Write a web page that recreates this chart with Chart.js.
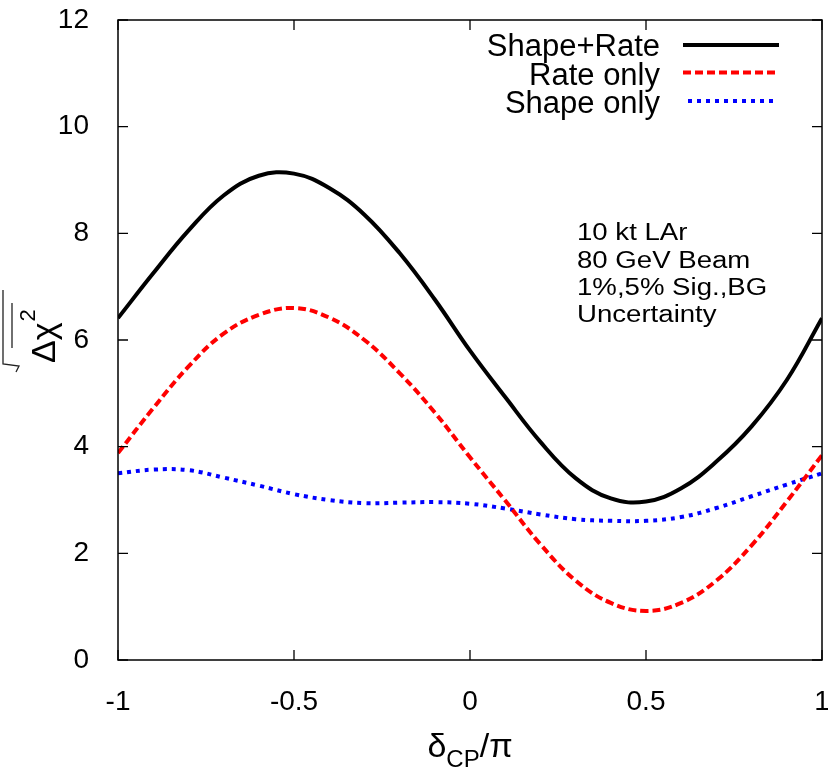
<!DOCTYPE html>
<html><head><meta charset="utf-8">
<script src="https://cdn.jsdelivr.net/npm/chart.js@4/dist/chart.umd.min.js"></script>
<style>html,body{margin:0;padding:0;background:#fff}#wrap{width:828px;height:769px;position:relative}</style>
</head><body><div id="wrap"><canvas id="c"></canvas></div>
<script>
// ---- data ----
const deltaCP   = [-1,-0.9,-0.8,-0.7,-0.6,-0.5,-0.4,-0.3,-0.2,-0.1,0,0.1,0.2,0.3,0.4,0.5,0.6,0.7,0.8,0.9,1];
const shapeRate = [6.41,7.25,8.05,8.71,9.08,9.12,8.85,8.35,7.63,6.76,5.80,4.93,4.09,3.41,3.03,2.97,3.22,3.72,4.38,5.25,6.41];
const rateOnly  = [3.88,4.72,5.50,6.12,6.47,6.60,6.42,6.00,5.38,4.64,3.80,2.99,2.17,1.49,1.07,0.92,1.07,1.49,2.15,2.97,3.84];
const shapeOnly = [3.50,3.57,3.56,3.42,3.27,3.11,3.00,2.94,2.95,2.96,2.93,2.84,2.73,2.64,2.61,2.61,2.68,2.85,3.07,3.29,3.50];
const seriesLabels = ['Shape+Rate','Rate only','Shape only'];
const xTicks = [-1,-0.5,0,0.5,1];
const yTicks = [0,2,4,6,8,10,12];
const noteLines = ['10 kt LAr','80 GeV Beam','1%,5% Sig.,BG','Uncertainty'];

const FONT = '"Liberation Sans", Arial, Helvetica, sans-serif';
const pts = arr => arr.map((v,i)=>({x:deltaCP[i], y:v}));

const styles = [
  {color:'#000000', width:4, dash:[]},
  {color:'#ff0000', width:4, dash:[8,4]},
  {color:'#0000ff', width:4, dash:[4,5]}
];

const decor = {
  id:'decor',
  afterDraw(chart){
    const ctx = chart.ctx, a = chart.chartArea;
    const xs = chart.scales.x, ys = chart.scales.y;
    ctx.save();
    // frame
    ctx.strokeStyle = '#000'; ctx.lineWidth = 1.5; ctx.setLineDash([]);
    ctx.strokeRect(a.left, a.top, a.right-a.left, a.bottom-a.top);
    // inward ticks on all four sides
    ctx.lineWidth = 1.3;
    ctx.beginPath();
    xTicks.forEach(v=>{
      const p = xs.getPixelForValue(v);
      ctx.moveTo(p, a.bottom); ctx.lineTo(p, a.bottom-10);
      ctx.moveTo(p, a.top); ctx.lineTo(p, a.top+10);
    });
    yTicks.forEach(v=>{
      const p = ys.getPixelForValue(v);
      ctx.moveTo(a.left, p); ctx.lineTo(a.left+10, p);
      ctx.moveTo(a.right, p); ctx.lineTo(a.right-10, p);
    });
    ctx.stroke();

    // legend
    ctx.fillStyle = '#000';
    ctx.font = '31px ' + FONT;
    ctx.textAlign = 'right'; ctx.textBaseline = 'alphabetic';
    const baselines = [56, 84.5, 112.5];
    const lineY = [45, 72.5, 101];
    seriesLabels.forEach((t,i)=>{
      ctx.fillText(t, 660, baselines[i]);
      const s = styles[i];
      ctx.strokeStyle = s.color; ctx.lineWidth = s.width; ctx.setLineDash(s.dash);
      ctx.beginPath();
      ctx.moveTo(i===2?688:683, lineY[i]); ctx.lineTo(i===2?776:779, lineY[i]);
      ctx.stroke();
    });
    ctx.setLineDash([]);

    // annotation block
    ctx.textAlign = 'left';
    ctx.font = '23px ' + FONT;
    const nb = [240, 267.5, 295, 322];
    noteLines.forEach((t,i)=>{
      ctx.save();
      ctx.translate(577, nb[i]);
      ctx.scale(1.2, 1);
      ctx.fillText(t, 0, 0);
      ctx.restore();
    });

    // x-axis title: delta_CP / pi
    ctx.font = '34px ' + FONT;
    const w1 = ctx.measureText('δ').width;
    const w3 = ctx.measureText('/π').width;
    ctx.font = '24px ' + FONT;
    const w2 = ctx.measureText('CP').width;
    let x0 = (a.left + a.right)/2 - (w1+w2+w3)/2;
    ctx.textAlign = 'left';
    ctx.font = '34px ' + FONT; ctx.fillText('δ', x0, 757);
    ctx.font = '24px ' + FONT; ctx.fillText('CP', x0 + w1, 767);
    ctx.font = '34px ' + FONT; ctx.fillText('/π', x0 + w1 + w2, 757);

    // y-axis title: sqrt(Δχ^2), rotated
    ctx.save();
    ctx.translate(55, 363);
    ctx.rotate(-Math.PI/2);
    ctx.font = '34px ' + FONT;
    ctx.fillText('Δχ', 0, 0);
    const wd = ctx.measureText('Δχ').width;
    ctx.font = '22px ' + FONT;
    ctx.fillText('2', wd + 1, -20);
    ctx.restore();
    ctx.strokeStyle = '#222'; ctx.lineWidth = 1.3;
    ctx.beginPath();
    ctx.moveTo(3, 290); ctx.lineTo(3, 364); ctx.lineTo(19, 366); ctx.lineTo(16, 372);
    ctx.stroke();
    ctx.beginPath();
    ctx.moveTo(12, 303); ctx.lineTo(12, 348);
    ctx.stroke();
    ctx.restore();
  }
};

new Chart(document.getElementById('c'), {
  type:'line',
  data:{
    datasets: seriesLabels.map((lab,i)=>({
      label: lab,
      data: pts([shapeRate, rateOnly, shapeOnly][i]),
      borderColor: styles[i].color,
      borderWidth: styles[i].width,
      borderDash: styles[i].dash,
      pointRadius: 0,
      fill: false,
      tension: 0.4,
      borderCapStyle: 'butt'
    }))
  },
  options:{
    responsive:true, maintainAspectRatio:false, animation:false,
    layout:{padding:{top:20, right:6, left:0, bottom:0}},
    plugins:{legend:{display:false}, tooltip:{enabled:false}},
    scales:{
      x:{
        type:'linear', min:-1, max:1,
        afterBuildTicks(s){ s.ticks = xTicks.map(v=>({value:v})); },
        afterFit(s){ s.height = 109; s.paddingLeft = 0; s.paddingRight = 0; },
        grid:{display:false}, border:{display:false},
        ticks:{color:'#000', font:{family:FONT, size:28}, padding:17, maxRotation:0, autoSkip:false,
               callback:v=>String(v)}
      },
      y:{
        type:'linear', min:0, max:12,
        afterBuildTicks(s){ s.ticks = yTicks.map(v=>({value:v})); },
        afterFit(s){ s.width = 118; s.paddingTop = 0; s.paddingBottom = 0; },
        grid:{display:false}, border:{display:false},
        ticks:{color:'#000', font:{family:FONT, size:28}, padding:21, callback:v=>String(v)}
      }
    }
  },
  plugins:[decor]
});
</script>
</body></html>
